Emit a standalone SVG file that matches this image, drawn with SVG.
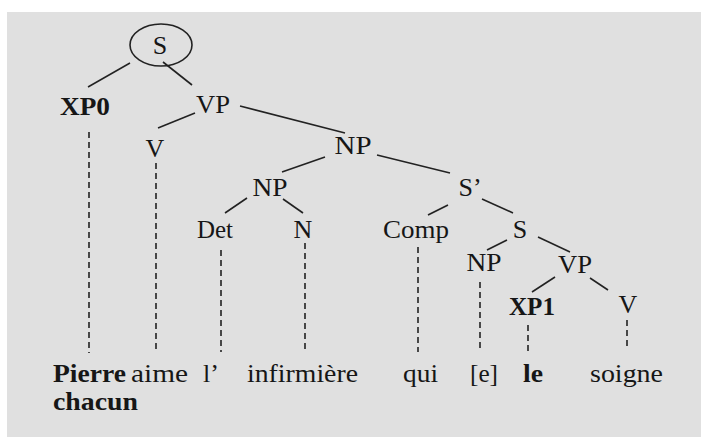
<svg xmlns="http://www.w3.org/2000/svg" width="701" height="437" viewBox="0 0 701 437">
<style>
text{font-family:"Liberation Serif","Times New Roman",Times,serif;font-size:26px;fill:#161616}
.m{text-anchor:middle}
.b{font-weight:bold}
.w{font-size:25px}
.e line,.e ellipse{stroke:#222;stroke-width:1.6;fill:none}
.d line{stroke:#222;stroke-width:1.6;stroke-dasharray:6 4}
</style>
<rect x="0" y="0" width="701" height="437" fill="#ffffff"/>
<rect x="7" y="12" width="694" height="425" fill="#e0e0e0"/>
<g id="connectors">
<g class="e">
<line x1="130" y1="63" x2="88" y2="87"/>
<line x1="163" y1="62" x2="192" y2="85"/>
<line x1="195" y1="113" x2="158" y2="128"/>
<line x1="240" y1="106" x2="345" y2="133"/>
<line x1="325" y1="157" x2="282" y2="172"/>
<line x1="377" y1="155" x2="450" y2="173"/>
<line x1="247" y1="198" x2="225" y2="213"/>
<line x1="283" y1="199" x2="303" y2="213"/>
<line x1="448" y1="205" x2="428" y2="215"/>
<line x1="482" y1="199" x2="513" y2="213"/>
<line x1="507" y1="240" x2="487" y2="250"/>
<line x1="538" y1="237" x2="570" y2="252"/>
<line x1="555" y1="277" x2="532" y2="292"/>
<line x1="590" y1="278" x2="608" y2="290"/>
</g>
<g class="d">
<line x1="89" y1="132" x2="89" y2="353"/>
<line x1="156" y1="163" x2="156" y2="353"/>
<line x1="221" y1="250" x2="221" y2="352"/>
<line x1="305" y1="243" x2="305" y2="352"/>
<line x1="418" y1="247" x2="418" y2="352"/>
<line x1="480" y1="282" x2="480" y2="352"/>
<line x1="528" y1="325" x2="528" y2="352"/>
<line x1="627" y1="320" x2="627" y2="347"/>
</g>
</g>
<g id="n-S" class="e"><ellipse cx="161" cy="45" rx="31" ry="21"/><text class="m" x="160" y="54">S</text></g>
<g id="n-XP0"><text class="m b" x="85" y="115" textLength="50" lengthAdjust="spacingAndGlyphs">XP0</text></g>
<g id="n-VP"><text class="m" x="213" y="113" textLength="34" lengthAdjust="spacingAndGlyphs">VP</text></g>
<g id="n-V"><text class="m" x="155" y="157">V</text></g>
<g id="n-NP"><text class="m" x="353" y="154" textLength="37" lengthAdjust="spacingAndGlyphs">NP</text></g>
<g id="n-NP2"><text class="m" x="270" y="196" textLength="35" lengthAdjust="spacingAndGlyphs">NP</text></g>
<g id="n-Sbar"><text class="m" x="470" y="196">S’</text></g>
<g id="n-Det"><text class="m" x="215" y="238" textLength="36" lengthAdjust="spacingAndGlyphs">Det</text></g>
<g id="n-N"><text class="m" x="303" y="238">N</text></g>
<g id="n-Comp"><text class="m" x="416" y="238" textLength="66" lengthAdjust="spacingAndGlyphs">Comp</text></g>
<g id="n-S2"><text class="m" x="520" y="238">S</text></g>
<g id="n-NP3"><text class="m" x="484" y="271" textLength="35" lengthAdjust="spacingAndGlyphs">NP</text></g>
<g id="n-VP2"><text class="m" x="575" y="273" textLength="34" lengthAdjust="spacingAndGlyphs">VP</text></g>
<g id="n-XP1"><text class="m b" x="532" y="315" textLength="46" lengthAdjust="spacingAndGlyphs">XP1</text></g>
<g id="n-V2"><text class="m" x="628" y="313">V</text></g>
<g id="words">
<text class="b w" x="53" y="382" textLength="73" lengthAdjust="spacingAndGlyphs">Pierre</text>
<text class="b w" x="53" y="410" textLength="85" lengthAdjust="spacingAndGlyphs">chacun</text>
<text x="131" y="382" textLength="57" lengthAdjust="spacingAndGlyphs">aime</text>
<text x="203" y="382">l’</text>
<text x="247" y="382" textLength="111" lengthAdjust="spacingAndGlyphs">infirmière</text>
<text x="403" y="382" textLength="35" lengthAdjust="spacingAndGlyphs">qui</text>
<text x="470" y="382" textLength="28" lengthAdjust="spacingAndGlyphs">[e]</text>
<text class="b" x="523" y="382" textLength="20" lengthAdjust="spacingAndGlyphs">le</text>
<text x="590" y="382" textLength="73" lengthAdjust="spacingAndGlyphs">soigne</text>
</g>
</svg>
